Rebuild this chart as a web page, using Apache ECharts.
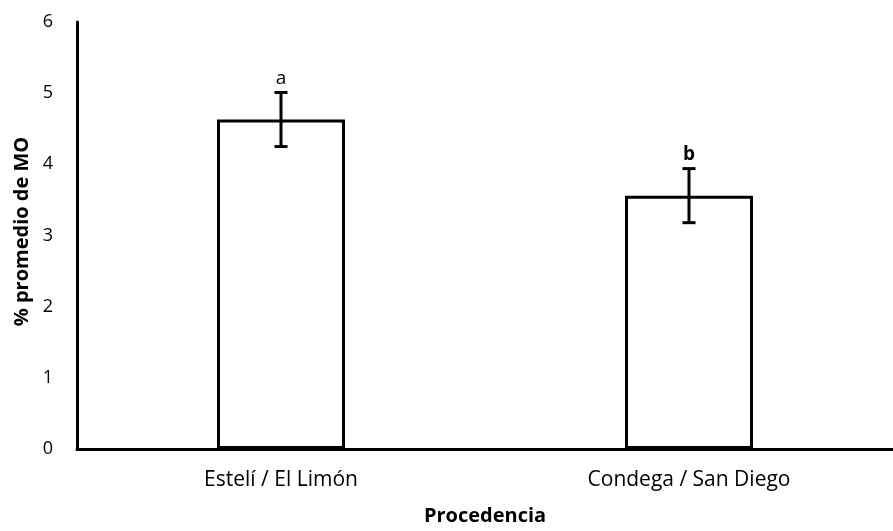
<!DOCTYPE html>
<html>
<head>
<meta charset="utf-8">
<script src="https://cdn.jsdelivr.net/npm/echarts@6/dist/echarts.min.js"></script>
<style>
  html, body { margin: 0; padding: 0; background: #fff; }
  #chart { width: 893px; height: 531px; }
</style>
</head>
<body>
<div id="chart"></div>
<script>
// Mean organic matter (%) by origin, with error bars and significance letters
const categories = ['Estelí / El Limón', 'Condega / San Diego'];
const meanMO = [4.63, 3.56];
const errMO = [0.38, 0.38];
const groupLetters = ['a', 'b'];
const yTicks = { min: 0, max: 6, interval: 1 };

const FONT = '"Open Sans", "Noto Sans", sans-serif';

const errorData = categories.map((c, i) => [i, meanMO[i] - errMO[i], meanMO[i] + errMO[i], groupLetters[i]]);

const chart = echarts.init(document.getElementById('chart'), null, { renderer: 'canvas' });

chart.setOption({
  animation: false,
  backgroundColor: '#ffffff',
  grid: { left: 77, top: 22, width: 826, height: 431, containLabel: false },
  xAxis: {
    type: 'category',
    data: categories,
    boundaryGap: true,
    axisLine: { show: true, lineStyle: { color: '#000', width: 3 } },
    axisTick: { show: false },
    axisLabel: { color: '#000', fontSize: 21, fontFamily: FONT, margin: 21 },
    name: 'Procedencia',
    nameLocation: 'middle',
    nameGap: 57,
    nameTextStyle: { color: '#000', fontSize: 20, fontWeight: 'bold', fontFamily: FONT }
  },
  yAxis: {
    type: 'value',
    min: yTicks.min,
    max: yTicks.max,
    interval: yTicks.interval,
    axisLine: { show: true, lineStyle: { color: '#000', width: 3 } },
    axisTick: { show: false },
    splitLine: { show: false },
    axisLabel: { color: '#000', fontSize: 18, fontFamily: FONT, margin: 24 },
    name: '% promedio de MO',
    nameLocation: 'middle',
    nameGap: 42,
    nameTextStyle: { color: '#000', fontSize: 20, fontWeight: 'bold', fontFamily: FONT, padding: [0, 0, 0, 8] }
  },
  series: [
    {
      type: 'bar',
      data: meanMO,
      barWidth: 128,
      itemStyle: { color: '#ffffff', borderColor: '#000', borderWidth: 3 }
    },
    {
      type: 'custom',
      data: errorData,
      z: 10,
      renderItem: function (params, api) {
        const x = api.value(0);
        const lo = api.coord([x, api.value(1)]);
        const hi = api.coord([x, api.value(2)]);
        const half = 6.5;
        const style = { stroke: '#000', lineWidth: 3 };
        const letter = api.value(3);
        return {
          type: 'group',
          children: [
            { type: 'line', shape: { x1: hi[0], y1: hi[1], x2: lo[0], y2: lo[1] }, style: style },
            { type: 'line', shape: { x1: hi[0] - half, y1: hi[1], x2: hi[0] + half, y2: hi[1] }, style: style },
            { type: 'line', shape: { x1: lo[0] - half, y1: lo[1], x2: lo[0] + half, y2: lo[1] }, style: style },
            {
              type: 'text',
              style: {
                text: letter,
                x: hi[0],
                y: hi[1] - 14,
                textAlign: 'center',
                textVerticalAlign: 'middle',
                fill: '#000',
                fontSize: 19,
                fontFamily: FONT,
                fontWeight: letter === 'b' ? 'bold' : 'normal'
              }
            }
          ]
        };
      }
    }
  ]
});
</script>
</body>
</html>
